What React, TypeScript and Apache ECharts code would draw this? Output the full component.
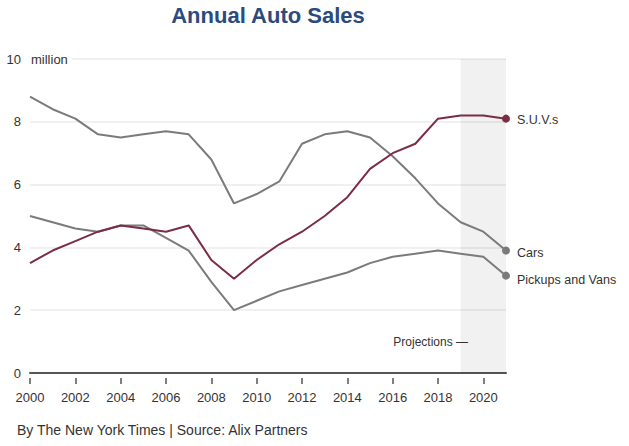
import React, { useEffect, useRef } from "react";
import * as echarts from "echarts";

const years = [
  "2000", "2001", "2002", "2003", "2004", "2005", "2006", "2007", "2008", "2009", "2010",
  "2011", "2012", "2013", "2014", "2015", "2016", "2017", "2018", "2019", "2020", "2021",
];
const cars = [8.8, 8.4, 8.1, 7.6, 7.5, 7.6, 7.7, 7.6, 6.8, 5.4, 5.7, 6.1, 7.3, 7.6, 7.7, 7.5, 6.9, 6.2, 5.4, 4.8, 4.5, 3.9];
const suvs = [3.5, 3.9, 4.2, 4.5, 4.7, 4.6, 4.5, 4.7, 3.6, 3.0, 3.6, 4.1, 4.5, 5.0, 5.6, 6.5, 7.0, 7.3, 8.1, 8.2, 8.2, 8.1];
const pickups = [5.0, 4.8, 4.6, 4.5, 4.7, 4.7, 4.3, 3.9, 2.9, 2.0, 2.3, 2.6, 2.8, 3.0, 3.2, 3.5, 3.7, 3.8, 3.9, 3.8, 3.7, 3.1];
const projectionStart = "2019";
const projectionEnd = "2021";
const yTicks = { min: 0, max: 10, interval: 2 };

const FONT = "'Liberation Sans', Arial, Helvetica, sans-serif";
const GRAY = "#7b7b7b";
const MAROON = "#7a2d43";

function withEndDot(values: number[]) {
  const last = values.length - 1;
  return values.map((v, i) =>
    i === last ? { value: v, symbol: "circle", symbolSize: 8 } : v
  );
}

function lineSeries(name: string, values: number[], color: string, offsetY: number) {
  return {
    name,
    type: "line",
    data: withEndDot(values),
    symbol: "none",
    showSymbol: true,
    showAllSymbol: true,
    z: 3,
    lineStyle: { color, width: 2 },
    itemStyle: { color },
    endLabel: {
      show: true,
      formatter: name,
      distance: 11,
      offset: [0, offsetY],
      color: "#333",
      fontSize: 12.5,
      fontFamily: FONT,
    },
    emphasis: { disabled: true },
  };
}

export default function App() {
  const ref = useRef<HTMLDivElement>(null);

  useEffect(() => {
    document.body.style.margin = "0";
    if (!ref.current) return;
    const chart = echarts.init(ref.current, null, { renderer: "svg" });
    chart.setOption({
      animation: false,
      grid: { left: 30, right: 123, top: 59, bottom: 73, containLabel: false },
      xAxis: [
        {
          type: "category",
          data: years,
          boundaryGap: false,
          axisLine: { show: true, lineStyle: { color: "#555", width: 2 } },
          axisTick: { show: false },
          axisLabel: { show: false },
          splitLine: { show: false },
        },
        {
          type: "category",
          data: years,
          boundaryGap: false,
          position: "bottom",
          offset: 5,
          axisLine: { show: false },
          axisTick: { show: true, interval: 1, length: 6, lineStyle: { color: "#555", width: 1.5 } },
          axisLabel: {
            interval: 1,
            margin: 13,
            color: "#333",
            fontSize: 13,
            fontFamily: FONT,
          },
          splitLine: { show: false },
        },
      ],
      yAxis: {
        type: "value",
        min: yTicks.min,
        max: yTicks.max,
        interval: yTicks.interval,
        axisLine: { show: false },
        axisTick: { show: false },
        axisLabel: { margin: 9, color: "#333", fontSize: 13, fontFamily: FONT },
        splitLine: { show: true, lineStyle: { color: "#ebebeb", width: 1.5 } },
      },
      series: [
        {
          name: "projections",
          type: "line",
          data: [],
          z: 1,
          silent: true,
          markArea: {
            silent: true,
            itemStyle: { color: "rgba(0,0,0,0.055)" },
            label: { show: false },
            data: [[{ xAxis: projectionStart }, { xAxis: projectionEnd }]],
          },
        },
        lineSeries("Pickups and Vans", pickups, GRAY, 4),
        lineSeries("Cars", cars, GRAY, 2),
        lineSeries("S.U.V.s", suvs, MAROON, 1),
      ],
      graphic: [
        {
          type: "text",
          x: 268,
          y: 15,
          style: {
            text: "Annual Auto Sales",
            fill: "#2b4a7e",
            font: `bold 22px ${FONT}`,
            textAlign: "center",
            textVerticalAlign: "middle",
          },
        },
        {
          type: "text",
          x: 30,
          y: 59.5,
          z: 10,
          style: {
            text: "million",
            fill: "#333",
            font: `13px ${FONT}`,
            textAlign: "left",
            textVerticalAlign: "middle",
            backgroundColor: "#fff",
            padding: [2, 4, 2, 1],
          },
        },
        {
          type: "text",
          x: 468,
          y: 342,
          z: 10,
          style: {
            text: "Projections —",
            fill: "#333",
            font: `12px ${FONT}`,
            textAlign: "right",
            textVerticalAlign: "middle",
          },
        },
        {
          type: "text",
          x: 17,
          y: 430,
          style: {
            text: "By The New York Times | Source: Alix Partners",
            fill: "#333",
            font: `14px ${FONT}`,
            textAlign: "left",
            textVerticalAlign: "middle",
          },
        },
      ],
    });
    return () => chart.dispose();
  }, []);

  return <div ref={ref} style={{ width: 629, height: 446 }} />;
}
